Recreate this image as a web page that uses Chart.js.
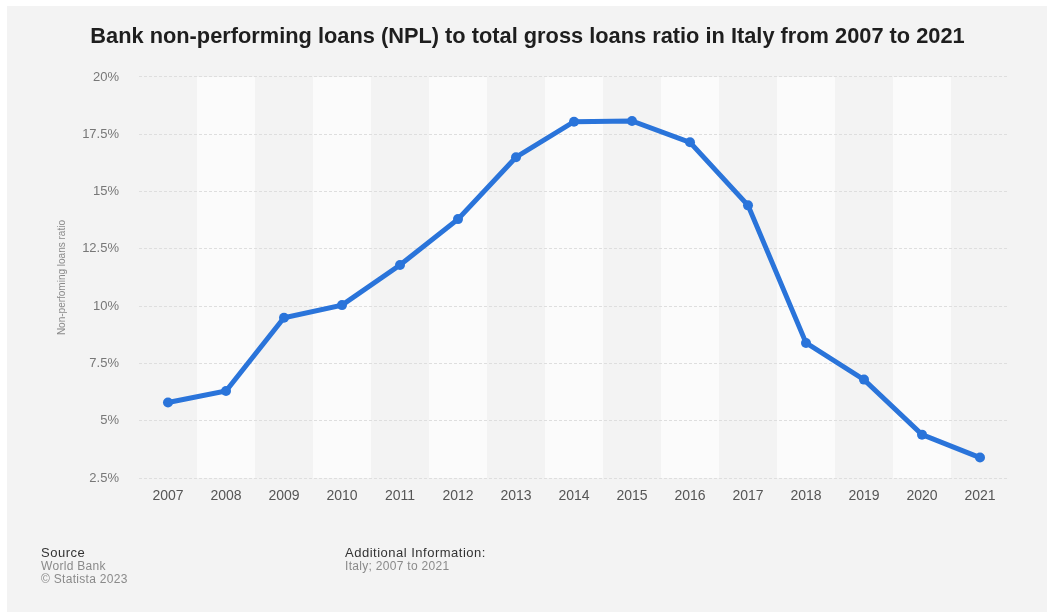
<!DOCTYPE html>
<html lang="en">
<head>
<meta charset="UTF-8">
<title>Bank NPL ratio Italy</title>
<script src="https://cdn.jsdelivr.net/npm/chart.js@4.4.0/dist/chart.umd.min.js"></script>
<style>
    body { margin: 0; background: #ffffff; font-family: 'Liberation Sans', Arial, sans-serif; }
    #page { position: absolute; left: 7px; top: 6px; width: 1040px; height: 606px; background: #f3f3f3; }
    #wrap { position: absolute; left: 0; top: 0; width: 1047px; height: 612px; }
    .foot { position: absolute; line-height: 12.8px; font-size: 12px; color: #8a8a8a; letter-spacing: 0.3px; }
    .foot b { font-weight: normal; color: #333; font-size: 13px; letter-spacing: 0.5px; }
</style>
</head>
<body>
<div id="page"></div>
<div id="wrap"><canvas id="nplChart" width="1047" height="612"></canvas></div>
<div class="foot" style="left:41px; top:547px;"><b>Source</b><br>World Bank<br>© Statista 2023</div>
<div class="foot" style="left:345px; top:547px;"><b>Additional Information:</b><br>Italy; 2007 to 2021</div>

<script>
// Données du graphique
const years = ['2007', '2008', '2009', '2010', '2011', '2012', '2013', '2014', '2015', '2016', '2017', '2018', '2019', '2020', '2021'];
const nplRatio = [5.8, 6.3, 9.5, 10.05, 11.8, 13.8, 16.5, 18.05, 18.08, 17.15, 14.4, 8.4, 6.8, 4.4, 3.4];
const yMin = 2.5;
const yMax = 20;
const yStep = 2.5;

const FONT = "'Liberation Sans', Arial, sans-serif";
const LINE_COLOR = '#2a74da';

// Bandes verticales alternées derrière la courbe
const bandsPlugin = {
    id: 'bands',
    beforeDraw(chart) {
        const { ctx, chartArea, scales } = chart;
        const x = scales.x;
        const w = (chartArea.right - chartArea.left) / years.length;
        ctx.save();
        ctx.fillStyle = '#fbfbfb';
        for (let i = 1; i < years.length; i += 2) {
            const cx = x.getPixelForValue(i);
            ctx.fillRect(cx - w / 2, chartArea.top, w, chartArea.bottom - chartArea.top);
        }
        ctx.restore();
    }
};

const ctx = document.getElementById('nplChart').getContext('2d');
new Chart(ctx, {
    type: 'line',
    data: {
        labels: years,
        datasets: [{
            label: 'Non-performing loans ratio',
            data: nplRatio,
            borderColor: LINE_COLOR,
            backgroundColor: LINE_COLOR,
            borderWidth: 5,
            pointRadius: 5,
            pointHoverRadius: 5,
            pointBackgroundColor: LINE_COLOR,
            pointBorderWidth: 0,
            tension: 0,
            fill: false
        }]
    },
    options: {
        responsive: false,
        animation: false,
        layout: { padding: { left: 8, right: 0, top: 0, bottom: 97 } },
        plugins: {
            legend: { display: false },
            tooltip: { enabled: false },
            title: {
                display: true,
                text: 'Bank non-performing loans (NPL) to total gross loans ratio in Italy from 2007 to 2021',
                color: '#1e1e1e',
                font: { family: FONT, size: 21.8, weight: 'bold' },
                padding: { top: 24, bottom: 26.8 }
            }
        },
        scales: {
            x: {
                offset: true,
                grid: { display: false, drawTicks: false },
                border: { display: false },
                ticks: {
                    color: '#555',
                    font: { family: FONT, size: 14 },
                    padding: 10,
                    maxRotation: 0
                }
            },
            y: {
                min: yMin,
                max: yMax,
                afterFit(scale) { scale.width = 131; },
                grid: { color: '#dedede', lineWidth: 1, drawTicks: false },
                border: { display: false, dash: [3, 2] },
                ticks: {
                    stepSize: yStep,
                    color: '#777',
                    padding: 20,
                    font: { family: FONT, size: 13 },
                    callback: (v) => v + '%'
                },
                title: {
                    display: true,
                    text: 'Non-perfoming loans ratio',
                    color: '#8a8a8a',
                    font: { family: FONT, size: 10 },
                    padding: { top: 48, bottom: 0 }
                }
            },
            // axe vide à droite pour réserver la marge
            yRight: {
                position: 'right',
                afterFit(scale) { scale.width = 38; },
                grid: { display: false, drawTicks: false },
                border: { display: false },
                ticks: { display: false }
            }
        }
    },
    plugins: [bandsPlugin]
});
</script>
</body>
</html>
